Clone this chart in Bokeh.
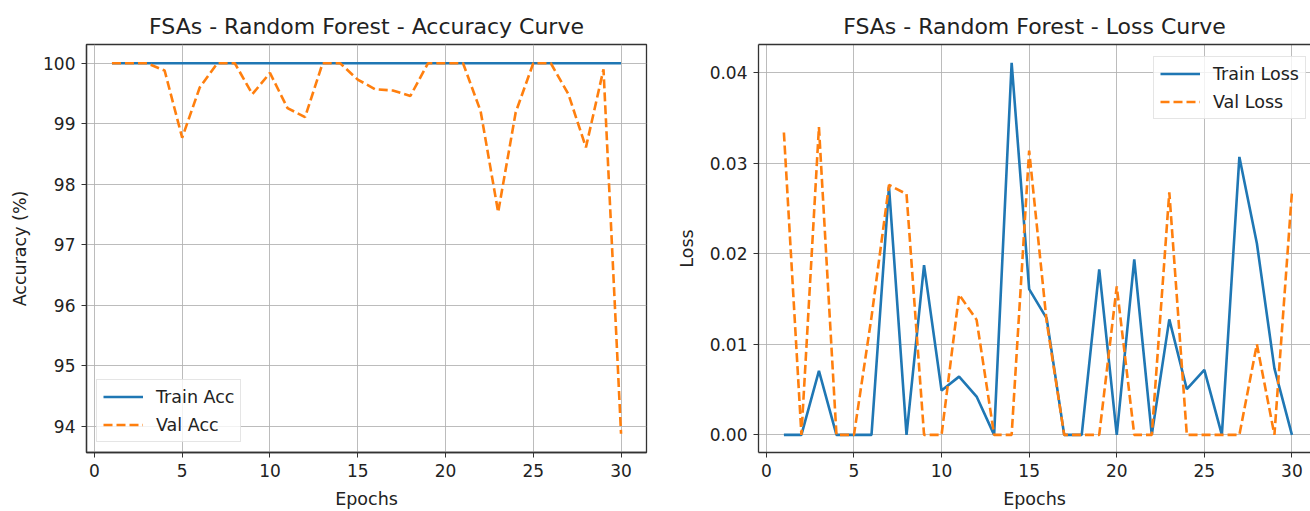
from bokeh.plotting import figure
from bokeh.layouts import row
from bokeh.models import FixedTicker, LinearAxis, Range1d, NumeralTickFormatter
from bokeh.embed import file_html
from bokeh.resources import INLINE

epochs = list(range(1, 31))
train_acc = [100, 100, 100, 100, 100, 100, 100, 100, 100, 100,
             100, 100, 100, 100, 100, 100, 100, 100, 100, 100,
             100, 100, 100, 100, 100, 100, 100, 100, 100, 100]
val_acc = [100, 100, 100, 99.88, 98.77, 99.6, 100, 100, 99.49, 99.84,
           99.26, 99.11, 100, 100, 99.73, 99.57, 99.55, 99.46, 100, 100,
           100, 99.21, 97.54, 99.19, 100, 100, 99.49, 98.61, 99.9, 93.88]
train_loss = [0, 0, 0.00706, 0, 0, 0, 0.0274, 0, 0.01875, 0.0049,
              0.00643, 0.00423, 0, 0.0411, 0.0161, 0.01287, 0, 0, 0.01827, 0,
              0.01937, 0, 0.01276, 0.00504, 0.00717, 0, 0.0307, 0.02114, 0.00735, 0]
val_loss = [0.0334, 0, 0.0340, 0, 0, 0.013, 0.0276, 0.0266, 0, 0,
            0.0155, 0.0127, 0, 0, 0.0314, 0.0125, 0, 0, 0, 0.0164,
            0, 0, 0.0268, 0, 0, 0, 0, 0.0100, 0, 0.0268]

x_ticks = [0, 5, 10, 15, 20, 25, 30]
acc_ticks = [94, 95, 96, 97, 98, 99, 100]
loss_ticks = [0.0, 0.01, 0.02, 0.03, 0.04]

BLUE = "#1f77b4"
ORANGE = "#ff7f0e"
FONT = "DejaVu Sans"
TXT = "#222222"
TICK_FS = "17px"
LABEL_FS = "17.5px"
TITLE_FS = "22px"


def style(p, yticks, xlabel, ylabel):
    p.title.text_font = FONT
    p.title.text_font_size = TITLE_FS
    p.title.text_font_style = "normal"
    p.title.text_color = TXT
    p.title.align = "center"
    p.title.standoff = 12
    for ax in (p.xaxis[0], p.yaxis[0]):
        ax.major_label_text_font = FONT
        ax.major_label_text_font_size = TICK_FS
        ax.major_label_text_color = TXT
        ax.axis_label_text_font = FONT
        ax.axis_label_text_font_size = LABEL_FS
        ax.axis_label_text_font_style = "normal"
        ax.axis_label_text_color = TXT
        ax.major_tick_out = 5
        ax.major_tick_in = 0
        ax.major_tick_line_color = "#333333"
        ax.minor_tick_line_color = None
        ax.axis_line_color = "#333333"
        ax.axis_line_width = 1.3
    p.xaxis[0].ticker = FixedTicker(ticks=x_ticks)
    p.yaxis[0].ticker = FixedTicker(ticks=yticks)
    p.xaxis[0].axis_label = xlabel
    p.yaxis[0].axis_label = ylabel
    p.xaxis[0].major_label_standoff = 6
    p.yaxis[0].major_label_standoff = 6
    p.xaxis[0].axis_label_standoff = 9
    p.yaxis[0].axis_label_standoff = 10
    p.grid.grid_line_color = "#b0b0b0"
    p.grid.grid_line_width = 1
    p.grid.grid_line_alpha = 0.85
    p.background_fill_color = "white"
    p.border_fill_color = "white"


def style_legend(p):
    lg = p.legend[0]
    lg.label_text_font = FONT
    lg.label_text_font_size = LABEL_FS
    lg.label_text_color = TXT
    lg.glyph_width = 40
    lg.glyph_height = 21
    lg.label_height = 21
    lg.label_standoff = 13
    lg.spacing = 7
    lg.padding = 6
    lg.margin = 10
    lg.border_line_color = "#cccccc"
    lg.border_line_width = 1
    lg.background_fill_alpha = 0.8


p1 = figure(width=660, height=511, output_backend="svg", toolbar_location=None,
            title="FSAs - Random Forest - Accuracy Curve",
            x_range=Range1d(-0.45, 31.45), y_range=Range1d(93.57, 100.31),
            min_border_left=86, min_border_right=14, min_border_top=44,
            min_border_bottom=58)
p1.line(epochs, train_acc, line_color=BLUE, line_width=2.6, legend_label="Train Acc")
p1.line(epochs, val_acc, line_color=ORANGE, line_width=2.6, line_dash="9 4",
        legend_label="Val Acc")
style(p1, acc_ticks, "Epochs", "Accuracy (%)")
p1.outline_line_color = "#333333"
p1.outline_line_width = 1.3
style_legend(p1)
p1.legend.location = "bottom_left"

p2 = figure(width=650, height=511, output_backend="svg", toolbar_location=None,
            title="FSAs - Random Forest - Loss Curve",
            x_range=Range1d(-0.45, 31.06), y_range=Range1d(-0.00195, 0.04312),
            min_border_left=98, min_border_right=0, min_border_top=44,
            min_border_bottom=58)
p2.line(epochs, train_loss, line_color=BLUE, line_width=2.6, legend_label="Train Loss")
p2.line(epochs, val_loss, line_color=ORANGE, line_width=2.6, line_dash="9 4",
        legend_label="Val Loss")
style(p2, loss_ticks, "Epochs", "Loss")
p2.yaxis[0].formatter = NumeralTickFormatter(format="0.00")
p2.outline_line_color = None
top_ax = LinearAxis(ticker=FixedTicker(ticks=[]), major_label_text_font_size="0px",
                    axis_line_color="#333333", axis_line_width=1.3,
                    major_tick_line_color=None, minor_tick_line_color=None,
                    major_label_standoff=0)
p2.add_layout(top_ax, "above")
style_legend(p2)
p2.legend.location = (395, 333)

layout = row(p1, p2)
open("out.html", "w").write(file_html(layout, INLINE))
